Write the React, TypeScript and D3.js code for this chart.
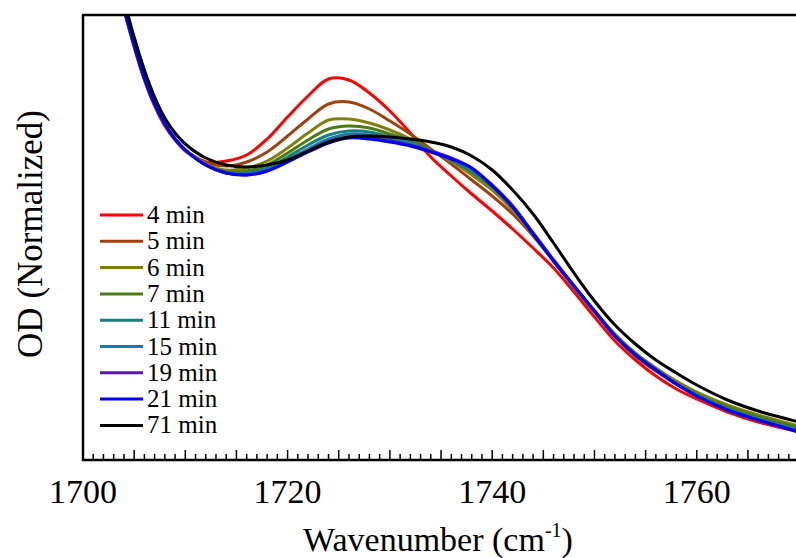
import React from 'react';
import * as d3 from 'd3';

// Wavenumber grid (cm-1)
const wavenumbers = [1704, 1705, 1706, 1707, 1708, 1709, 1710, 1712, 1714, 1716, 1718, 1720, 1722, 1724, 1726, 1728, 1730, 1732, 1734, 1736, 1738, 1740, 1742, 1744, 1746, 1748, 1750, 1752, 1754, 1756, 1758, 1760, 1763, 1766, 1770];

// Normalized OD per time point
const od4 = [0.450, 0.413, 0.380, 0.354, 0.334, 0.320, 0.309, 0.298, 0.299, 0.305, 0.321, 0.343, 0.364, 0.381, 0.380, 0.367, 0.349, 0.327, 0.303, 0.284, 0.266, 0.249, 0.231, 0.212, 0.192, 0.168, 0.143, 0.119, 0.100, 0.084, 0.071, 0.061, 0.048, 0.038, 0.028];
const od5 = [0.451, 0.414, 0.381, 0.355, 0.335, 0.321, 0.310, 0.298, 0.294, 0.298, 0.308, 0.324, 0.341, 0.356, 0.358, 0.351, 0.339, 0.326, 0.311, 0.296, 0.280, 0.264, 0.246, 0.224, 0.199, 0.173, 0.148, 0.124, 0.104, 0.089, 0.076, 0.065, 0.052, 0.042, 0.032];
const od6 = [0.452, 0.415, 0.382, 0.356, 0.336, 0.321, 0.310, 0.296, 0.290, 0.292, 0.299, 0.312, 0.327, 0.340, 0.341, 0.337, 0.330, 0.321, 0.310, 0.299, 0.285, 0.270, 0.250, 0.225, 0.199, 0.173, 0.149, 0.126, 0.107, 0.092, 0.079, 0.068, 0.055, 0.045, 0.034];
const od7 = [0.452, 0.415, 0.382, 0.356, 0.336, 0.321, 0.310, 0.295, 0.288, 0.289, 0.295, 0.307, 0.320, 0.331, 0.334, 0.332, 0.326, 0.319, 0.310, 0.300, 0.288, 0.273, 0.252, 0.226, 0.199, 0.173, 0.149, 0.125, 0.106, 0.091, 0.077, 0.066, 0.053, 0.043, 0.032];
const od11 = [0.452, 0.415, 0.382, 0.356, 0.336, 0.321, 0.310, 0.295, 0.287, 0.287, 0.292, 0.303, 0.315, 0.325, 0.329, 0.328, 0.323, 0.317, 0.309, 0.300, 0.289, 0.274, 0.253, 0.226, 0.199, 0.173, 0.149, 0.124, 0.105, 0.090, 0.076, 0.065, 0.051, 0.041, 0.030];
const od15 = [0.452, 0.415, 0.382, 0.356, 0.336, 0.321, 0.310, 0.295, 0.287, 0.286, 0.290, 0.300, 0.311, 0.321, 0.326, 0.325, 0.321, 0.316, 0.309, 0.301, 0.290, 0.275, 0.254, 0.227, 0.200, 0.174, 0.149, 0.124, 0.105, 0.090, 0.076, 0.064, 0.050, 0.040, 0.029];
const od19 = [0.452, 0.415, 0.382, 0.356, 0.336, 0.321, 0.310, 0.295, 0.287, 0.285, 0.289, 0.298, 0.309, 0.318, 0.323, 0.322, 0.319, 0.315, 0.309, 0.302, 0.292, 0.275, 0.254, 0.227, 0.200, 0.174, 0.149, 0.124, 0.105, 0.090, 0.076, 0.064, 0.050, 0.040, 0.028];
const od21 = [0.452, 0.415, 0.382, 0.356, 0.336, 0.321, 0.310, 0.295, 0.287, 0.285, 0.289, 0.298, 0.308, 0.317, 0.322, 0.321, 0.318, 0.314, 0.308, 0.301, 0.292, 0.274, 0.253, 0.226, 0.199, 0.174, 0.149, 0.124, 0.105, 0.090, 0.076, 0.064, 0.050, 0.040, 0.028];
const od71 = [0.460, 0.423, 0.390, 0.363, 0.342, 0.327, 0.316, 0.302, 0.295, 0.293, 0.295, 0.300, 0.309, 0.318, 0.323, 0.324, 0.323, 0.321, 0.318, 0.313, 0.304, 0.290, 0.270, 0.246, 0.217, 0.187, 0.159, 0.135, 0.116, 0.100, 0.087, 0.075, 0.060, 0.049, 0.038];

const legendLabels = ['4 min', '5 min', '6 min', '7 min', '11 min', '15 min', '19 min', '21 min', '71 min'];
const seriesColors = ['#ff0000', '#a0400f', '#808010', '#4a7a14', '#187f7f', '#1a78b0', '#5a18a8', '#0000f0', '#000000'];
const seriesValues = [od4, od5, od6, od7, od11, od15, od19, od21, od71];
const xTickLabels = [1700, 1720, 1740, 1760];

const WIDTH = 796;
const HEIGHT = 558;
const LEFT = 83;
const TOP = 15;
const BOTTOM = 460;
const RIGHT = 796;
const FONT = "'Liberation Serif', 'Times New Roman', Times, serif";

export default function App() {
  const x = d3.scaleLinear().domain([1700, 1769.7]).range([LEFT, RIGHT]);
  const y = d3.scaleLinear().domain([0, 0.445]).range([BOTTOM, TOP]);

  const line = d3
    .line<number>()
    .x((_, i) => x(wavenumbers[i]))
    .y((d) => y(d))
    .curve(d3.curveCatmullRom.alpha(0.5));

  const minorTicks = d3.range(1701, 1770).filter((t) => t % 5 !== 0);
  const majorTicks = d3.range(1705, 1770, 5);

  const legendX1 = 100;
  const legendX2 = 143;
  const legendY0 = 215;
  const legendStep = 26.3;

  return (
    <svg
      width={WIDTH}
      height={HEIGHT}
      style={{ position: 'absolute', left: 0, top: 0, background: '#fff' }}
      fontFamily={FONT}
    >
      <defs>
        <clipPath id="plotClip">
          <rect x={LEFT} y={TOP} width={RIGHT - LEFT} height={BOTTOM - TOP} />
        </clipPath>
      </defs>
      <rect x={0} y={0} width={WIDTH} height={HEIGHT} fill="#fff" />

      <g clipPath="url(#plotClip)">
        {seriesValues.map((vals, i) => (
          <path
            key={legendLabels[i]}
            d={line(vals) || ''}
            fill="none"
            stroke={seriesColors[i]}
            strokeWidth={3}
            strokeLinejoin="round"
          />
        ))}
      </g>

      {minorTicks.map((t) => (
        <line key={'m' + t} x1={x(t)} x2={x(t)} y1={BOTTOM} y2={BOTTOM - 6} stroke="#000" strokeWidth={1.5} />
      ))}
      {majorTicks.map((t) => (
        <line key={'M' + t} x1={x(t)} x2={x(t)} y1={BOTTOM} y2={BOTTOM - 10} stroke="#000" strokeWidth={1.5} />
      ))}

      <path
        d={`M${RIGHT},${TOP} L${LEFT},${TOP} L${LEFT},${BOTTOM} L${RIGHT},${BOTTOM}`}
        fill="none"
        stroke="#000"
        strokeWidth={2.5}
      />

      {xTickLabels.map((t) => (
        <text key={t} x={x(t)} y={503} textAnchor="middle" fontSize={34} fill="#000">
          {t}
        </text>
      ))}

      <text x={438} y={551} textAnchor="middle" fontSize={34} fill="#000">
        Wavenumber (cm
        <tspan fontSize={20} dy={-14}>-1</tspan>
        <tspan dy={14}>)</tspan>
      </text>

      <text
        transform="translate(42,234) rotate(-90)"
        textAnchor="middle"
        fontSize={35}
        fill="#000"
      >
        OD (Normalized)
      </text>

      {legendLabels.map((lab, i) => {
        const cy = legendY0 + i * legendStep;
        return (
          <g key={lab}>
            <line x1={legendX1} x2={legendX2} y1={cy} y2={cy} stroke={seriesColors[i]} strokeWidth={3} />
            <text x={legendX2 + 4} y={cy + 8} fontSize={25} fill="#000">
              {lab}
            </text>
          </g>
        );
      })}
    </svg>
  );
}
